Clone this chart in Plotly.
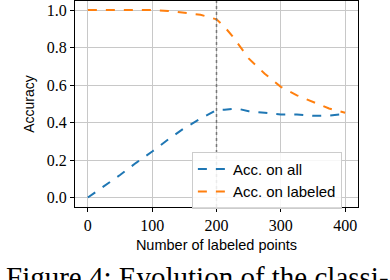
import plotly.graph_objects as go

x_all = [0, 25, 50, 75, 100, 125, 150, 175, 200, 212.5, 225, 237.5, 250, 275, 300, 325, 350, 375, 400]
acc_all = [0.0, 0.06, 0.12, 0.185, 0.245, 0.31, 0.37, 0.42, 0.467, 0.468, 0.472, 0.47, 0.46, 0.452, 0.443, 0.443, 0.436, 0.437, 0.445]
acc_labeled = [1.0, 1.0, 1.0, 1.0, 1.0, 0.995, 0.985, 0.975, 0.95, 0.91, 0.86, 0.8, 0.742, 0.66, 0.59, 0.545, 0.51, 0.475, 0.452]
x_ticks = [0, 100, 200, 300, 400]
y_ticks = [0.0, 0.2, 0.4, 0.6, 0.8, 1.0]
y_tick_labels = ["0.0", "0.2", "0.4", "0.6", "0.8", "1.0"]
split_x = 200
caption = "Figure 4: Evolution of the classi-"

serif = "Liberation Serif"
sans = "Liberation Sans"

fig = go.Figure()
fig.add_trace(go.Scatter(x=x_all, y=acc_all, mode="lines", name="Acc. on all",
                         line=dict(color="#1f77b4", width=2, dash="dash")))
fig.add_trace(go.Scatter(x=x_all, y=acc_labeled, mode="lines", name="Acc. on labeled",
                         line=dict(color="#ff7f0e", width=2, dash="dash")))
fig.add_vline(x=split_x, line=dict(color="#777777", width=1.5, dash="dot"))

fig.update_layout(
    width=390, height=280,
    margin=dict(l=75, r=32, t=1, b=73, autoexpand=False),
    plot_bgcolor="white", paper_bgcolor="white",
    showlegend=True,
    legend=dict(x=0.413, y=0.268, xanchor="left", yanchor="top",
                bgcolor="rgba(255,255,255,0.85)", bordercolor="#cccccc", borderwidth=1,
                font=dict(family=sans, size=15, color="black"),
                itemwidth=30, tracegroupgap=0),
    xaxis=dict(range=[-20, 420], tickvals=x_ticks, ticks="outside", ticklen=4, automargin=False,
               tickcolor="black", showgrid=True, gridcolor="#c8c8c8", gridwidth=1,
               showline=True, linecolor="black", linewidth=1.2, mirror=True, zeroline=False,
               tickfont=dict(family=serif, size=16, color="black"),
               title=dict(text="Number of labeled points", standoff=6,
                          font=dict(family=sans, size=14.5, color="black"))),
    yaxis=dict(range=[-0.0507, 1.048], tickvals=y_ticks, ticktext=y_tick_labels, automargin=False,
               ticks="outside", ticklen=4,
               tickcolor="black", showgrid=True, gridcolor="#c8c8c8", gridwidth=1,
               showline=True, linecolor="black", linewidth=1.2, mirror=True, zeroline=False,
               tickfont=dict(family=serif, size=16, color="black"),
               title=dict(text="Accuracy", standoff=8,
                          font=dict(family=sans, size=14, color="black"))),
)
fig.add_annotation(text=caption, xref="paper", yref="paper", x=(4 - 75) / 283, y=(207 - 259) / 206,
                   xanchor="left", yanchor="top", showarrow=False,
                   font=dict(family=serif, size=29, color="black"))
fig.write_html("out.html", post_script="document.body.style.margin='0';",
               config={"displayModeBar": False})
